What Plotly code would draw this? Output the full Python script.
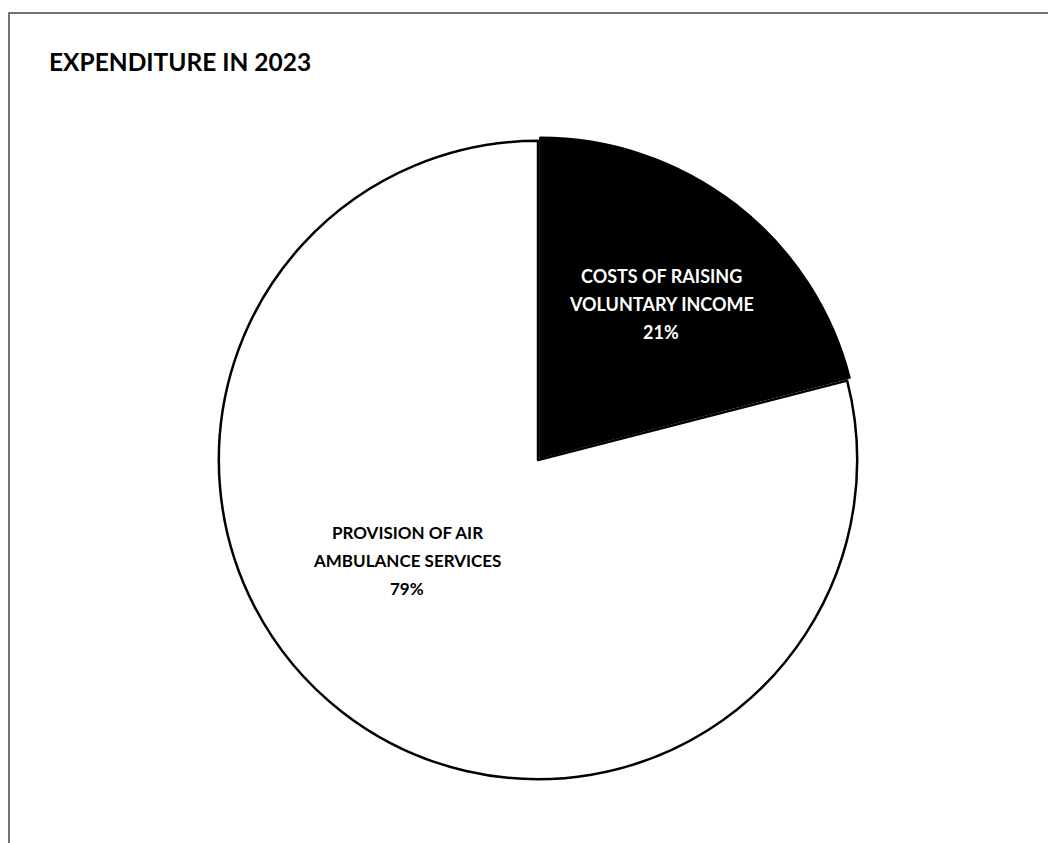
import plotly.graph_objects as go

categories = ["COSTS OF RAISING<br>VOLUNTARY INCOME", "PROVISION OF AIR<br>AMBULANCE SERVICES"]
values = [21, 79]
colors = ["#000000", "#ffffff"]
text_colors = ["#ffffff", "#000000"]
pulls = [0.012, 0]
title = "EXPENDITURE IN 2023"

W, H = 1056, 843
# label centres (figure pixel coords) and font sizes for each slice
label_pos = [(653, 296), (399, 552)]
label_sizes = [18, 17]
line_gap = 28

fig = go.Figure(go.Pie(
    labels=categories,
    values=values,
    sort=False,
    direction="clockwise",
    rotation=0,
    pull=pulls,
    marker=dict(colors=colors, line=dict(color="#000000", width=2.5)),
    textinfo="none",
    showlegend=False,
    domain=dict(x=[207 / W, 853 / W], y=[(H - 775) / H, (H - 129) / H]),
    hoverinfo="skip",
))

total = sum(values)
for cat, val, tc, (px, py), fs in zip(categories, values, text_colors, label_pos, label_sizes):
    lines = cat.split("<br>") + ["%d%%" % round(100 * val / total)]
    n = len(lines)
    for i, ln in enumerate(lines):
        yy = py + (i - (n - 1) / 2) * line_gap
        fig.add_annotation(text="<b>%s</b>" % ln,
                           xref="paper", yref="paper", x=px / W, y=(H - yy) / H,
                           xanchor="center", yanchor="middle", showarrow=False,
                           font=dict(family="Lato", size=fs, color=tc))

fig.add_shape(type="rect", xref="paper", yref="paper",
              x0=1 / W, x1=1.2, y0=-0.2, y1=(H - 5) / H,
              line=dict(color="#444444", width=1.5), fillcolor="rgba(0,0,0,0)")

fig.add_annotation(text="<b>" + title + "</b>", xref="paper", yref="paper",
                   x=39 / W, y=(H - 53) / H, xanchor="left", yanchor="middle",
                   showarrow=False, font=dict(family="Lato", size=24.5, color="#000000"))

fig.update_layout(width=W, height=H, margin=dict(l=0, r=0, t=0, b=0),
                  paper_bgcolor="#ffffff", plot_bgcolor="#ffffff")
fig.write_html("out.html")
